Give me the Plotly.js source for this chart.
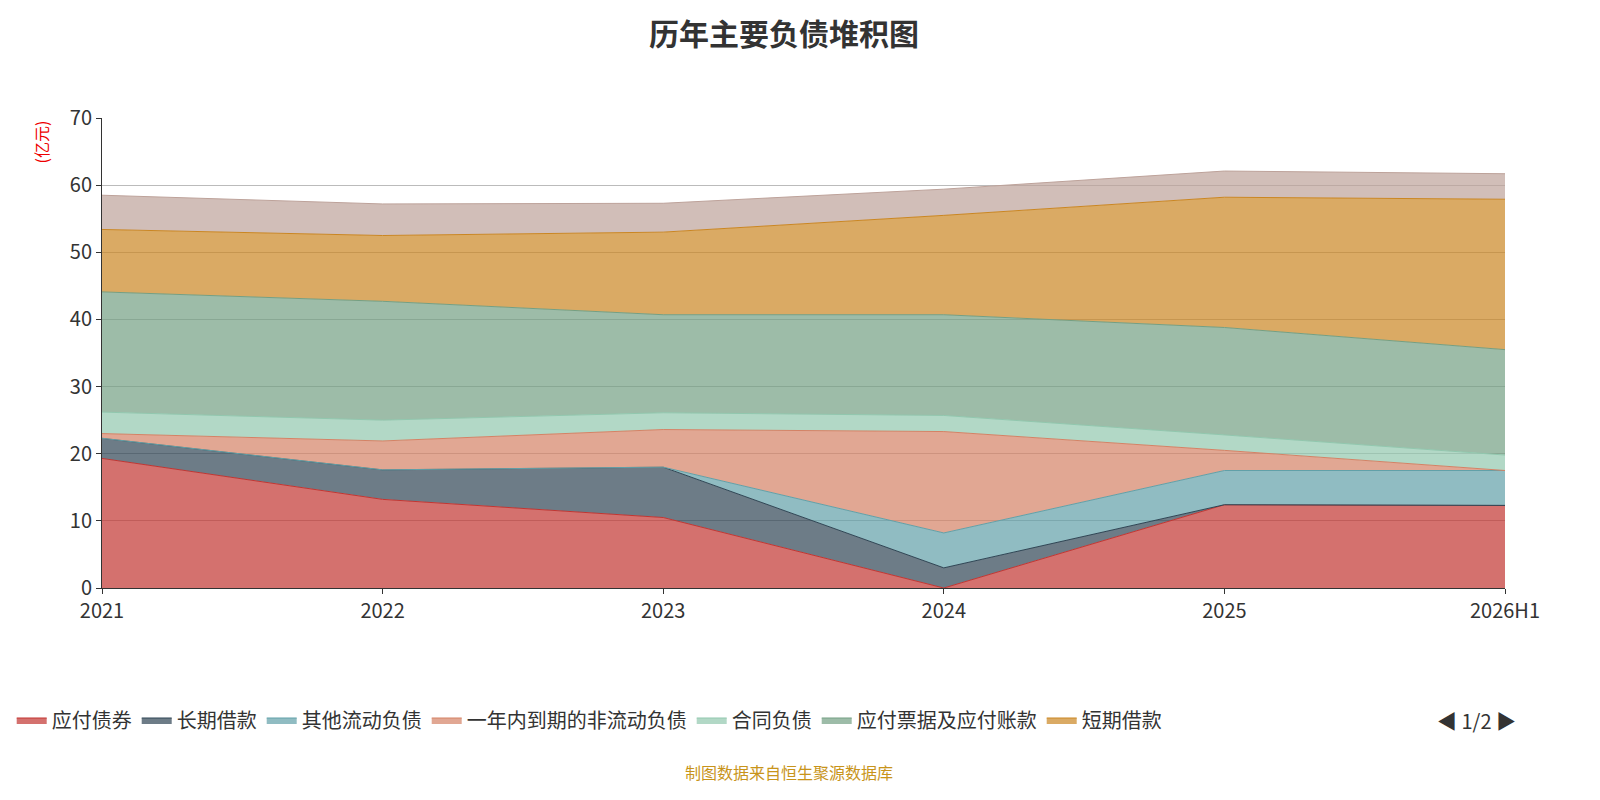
<!DOCTYPE html>
<html>
<head>
<meta charset="utf-8">
<script src="https://cdn.plot.ly/plotly-3.0.1.min.js"></script>
<style>body{margin:0;} #chart{width:1600px;height:800px;}</style>
</head>
<body>
<div id="chart"></div>
<script>
// Dữ liệu (亿元)
var years = ['2021', '2022', '2023', '2024', '2025', '2026H1'];
var names = ['应付债券', '长期借款', '其他流动负债', '一年内到期的非流动负债', '合同负债', '应付票据及应付账款', '短期借款', '其他应付款'];
var colors = ['#c23531', '#2f4554', '#61a0a8', '#d48265', '#91c7ae', '#749f83', '#ca8622', '#bda29a'];
var v_bond = [19.3, 13.2, 10.5, 0, 12.4, 12.3];
var v_longLoan = [3.0, 4.4, 7.5, 3.0, 0, 0];
var v_otherCur = [0, 0, 0, 5.2, 5.1, 5.2];
var v_dueOneYear = [0.7, 4.3, 5.6, 15.1, 3.0, 0];
var v_contract = [3.2, 3.1, 2.5, 2.4, 2.3, 2.3];
var v_payable = [17.9, 17.7, 14.6, 15.0, 16.0, 15.7];
var v_shortLoan = [9.3, 9.8, 12.3, 14.8, 19.4, 22.4];
var v_other = [5.1, 4.7, 4.3, 3.9, 3.9, 3.8];
var series = [v_bond, v_longLoan, v_otherCur, v_dueOneYear, v_contract, v_payable, v_shortLoan, v_other];

function hexA(hex, a){
    var r = parseInt(hex.substr(1,2),16), g = parseInt(hex.substr(3,2),16), b = parseInt(hex.substr(5,2),16);
    return 'rgba(' + r + ',' + g + ',' + b + ',' + a + ')';
}

var traces = series.map(function(vals, i){
    return {
        x: years, y: vals, name: names[i], type: 'scatter', mode: 'lines',
        stackgroup: 'one', line: {color: colors[i], width: 1},
        fillcolor: hexA(colors[i], 0.7),
        showlegend: i < 7
    };
});

function px2x(px){ return (px - 91) / 1414; }
function px2y(py){ return (588 - py) / 470; }

var layout = {
    width: 1600, height: 800, autosize: false,
    paper_bgcolor: '#fff', plot_bgcolor: '#fff',
    font: {family: 'Noto Sans CJK SC, sans-serif', size: 20, color: '#333'},
    title: {text: '<b>历年主要负债堆积图</b>', x: 0.49, y: 0.97, font: {size: 30, color: '#333'}},
    margin: {l: 91, r: 95, t: 118, b: 212},
    xaxis: {type: 'category', range: [0, 5], showgrid: false, showline: true, linecolor: '#333',
            ticks: 'outside', ticklen: 5, tickcolor: '#333', tickfont: {size: 20}},
    yaxis: {range: [0, 70], dtick: 10, showgrid: true, gridcolor: '#bbb', showline: true, linecolor: '#333',
            ticks: 'outside', ticklen: 5, tickcolor: '#333', zeroline: false, tickfont: {size: 20}},
    legend: {orientation: 'h', traceorder: 'normal', x: px2x(0), y: px2y(720), xanchor: 'left', yanchor: 'middle',
             font: {size: 20}},
    annotations: [
        {text: '(亿元)', textangle: -90, x: px2x(30), y: px2y(142), xref: 'paper', yref: 'paper', showarrow: false,
         font: {size: 16, color: '#e00'}, xanchor: 'center', yanchor: 'middle'},
        {text: '◀ 1/2 ▶', x: px2x(1518), y: px2y(720), xref: 'paper', yref: 'paper', showarrow: false,
         font: {size: 20, color: '#333'}, yanchor: 'middle'},
        {text: '制图数据来自恒生聚源数据库', x: 0.49, y: px2y(772), xref: 'paper', yref: 'paper', showarrow: false,
         font: {size: 16, color: '#c8941a'}, yanchor: 'middle'}
    ]
};

Plotly.newPlot('chart', traces, layout, {displayModeBar: false});
</script>
</body>
</html>
